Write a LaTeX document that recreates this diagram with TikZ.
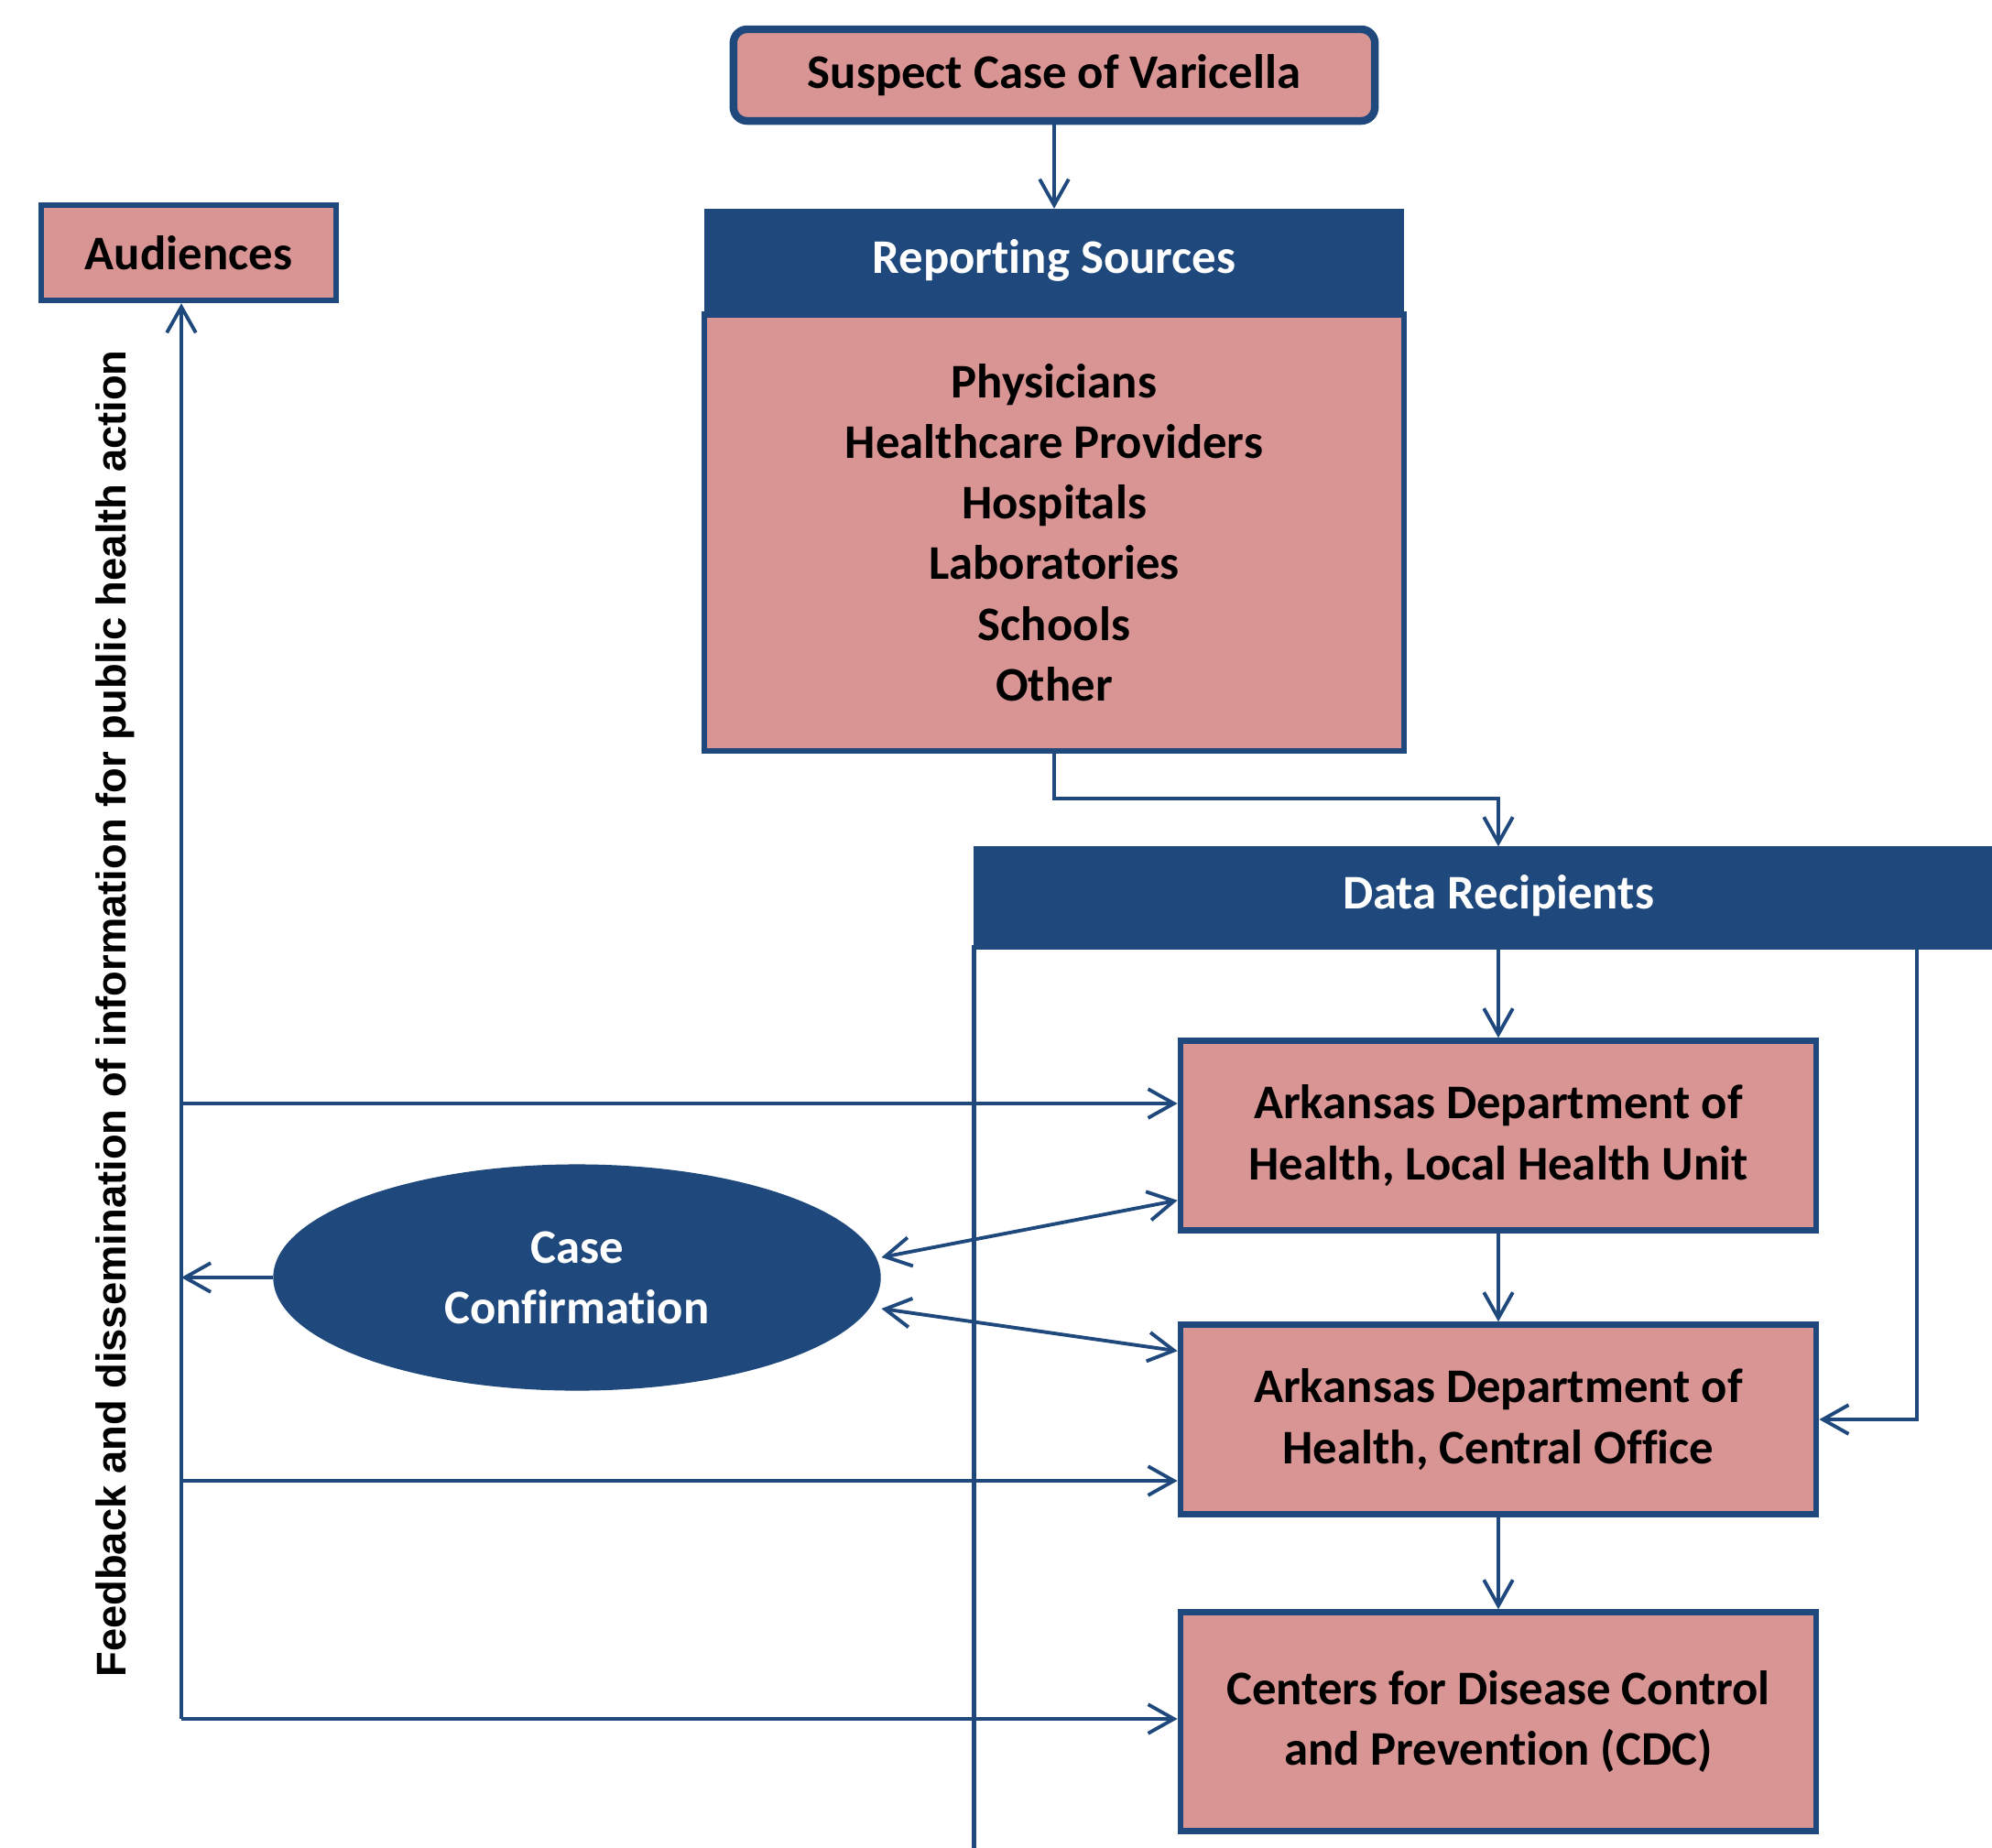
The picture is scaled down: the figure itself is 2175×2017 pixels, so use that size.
\documentclass[tikz,border=0pt]{standalone}
\usepackage{fontspec}
\setmainfont{Carlito}[Ligatures=NoCommon]
\newfontfamily\sidefont{Liberation Sans}
\usepackage{tikz}
\usetikzlibrary{arrows.meta,shapes.geometric,calc}
\definecolor{vznavy}{HTML}{1F497D}
\definecolor{vzpink}{HTML}{D99594}

\begin{document}
\begin{tikzpicture}[x=0.01cm, y=-0.01cm,
    font=\fontsize{15}{18.8}\selectfont\bfseries,
    pinkbox/.style={draw=vznavy, fill=vzpink, line width=1.8pt, inner sep=0pt, align=center},
    navyhdr/.style={draw=vznavy, fill=vznavy, text=white, inner sep=0pt},
    arr/.style={-{Straight Barb[length=8pt,width=9pt]}, vznavy, line width=1.1pt},
    darr/.style={{Straight Barb[length=8pt,width=9pt]}-{Straight Barb[length=8pt,width=9pt]}, vznavy, line width=1.1pt}]
    \useasboundingbox (0,0) rectangle (2175,2017);
    \clip (0,0) rectangle (2175,2017);
    \node[pinkbox, rounded corners=0.15cm, line width=2.4pt, minimum width=7.0cm, minimum height=1.0cm]
        (susp) at (1151,82) {Suspect Case of Varicella};
    \node[navyhdr, minimum width=7.63cm, minimum height=1.11cm] (rep) at (1151,284) {Reporting Sources};
    \node[pinkbox, anchor=north, minimum width=7.63cm, minimum height=4.76cm] (repbody) at (rep.south)
        {Physicians\\Healthcare Providers\\Hospitals\\Laboratories\\Schools\\Other};
    \node[pinkbox, minimum width=3.22cm, minimum height=1.04cm] (aud) at (206,276) {Audiences};
    \node[navyhdr, minimum width=11.44cm, minimum height=1.06cm] (dr) at (1636,978) {Data Recipients};
    \node[draw=vznavy, line width=1.6pt, anchor=north, minimum width=11.44cm, minimum height=11cm] (drbox) at (dr.south) {};
    \node[pinkbox, minimum width=6.94cm, minimum height=2.07cm] (lhu) at (1636,1240)
        {Arkansas Department of\\Health, Local Health Unit};
    \node[pinkbox, minimum width=6.94cm, minimum height=2.07cm] (co) at (1636,1550)
        {Arkansas Department of\\Health, Central Office};
    \node[pinkbox, minimum width=6.94cm, minimum height=2.39cm] (cdc) at (1636,1880)
        {Centers for Disease Control\\and Prevention (CDC)};
    \node[ellipse, fill=vznavy, text=white, inner sep=0pt, align=center, minimum width=6.63cm, minimum height=2.47cm]
        (cc) at (630,1395) {Case\\Confirmation};
    \node[rotate=90, font=\sidefont\fontsize{12.9}{15}\selectfont\bfseries] (fb) at (126,1107)
        {Feedback and dissemination of information for public health action};
    % feedback line
    \coordinate (f1) at (198,1205);
    \coordinate (f2) at (198,1617);
    \coordinate (f3) at (198,1877);
    \coordinate (drr) at (2093,1031);
    \draw[arr] (susp) -- (rep);
    \draw[arr] (repbody.south) -- ++(0,49) -| (dr.north);
    \draw[arr] (dr.south) -- (lhu.north);
    \draw[arr] (lhu) -- (co);
    \draw[arr] (co) -- (cdc);
    \draw[arr] (drr) |- (co.east);
    \draw[arr] (f3) -- (f3 |- aud.south);
    \draw[arr] (f1) -- (f1 -| lhu.west);
    \draw[arr] (f2) -- (f2 -| co.west);
    \draw[arr] (f3) -- (f3 -| cdc.west);
    \draw[arr] (cc.west) -- (cc.west -| f3);
    \draw[darr] ($(cc.east)+(0,-22)$) -- ($(lhu.south west)+(0,-36)$);
    \draw[darr] ($(cc.east)+(0,34)$) -- ($(co.north west)+(0,32)$);
\end{tikzpicture}
\end{document}
